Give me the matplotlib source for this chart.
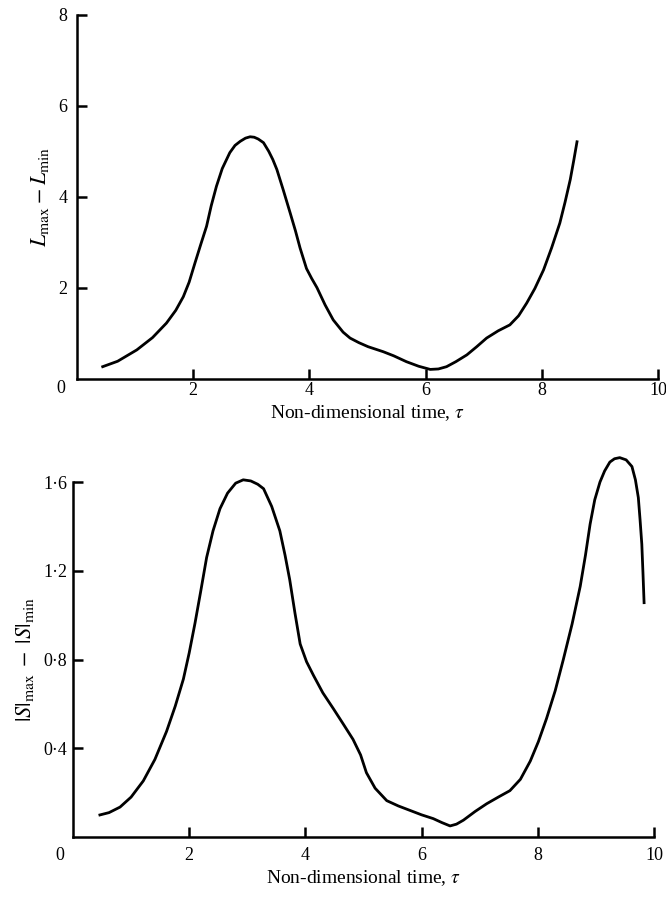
import matplotlib
matplotlib.use("Agg")
import matplotlib.pyplot as plt

plt.rcParams['font.family'] = ['Liberation Serif', 'DejaVu Serif']
plt.rcParams['mathtext.fontset'] = 'stix'

# Top panel: L_max - L_min vs non-dimensional time
top_x = [0.42, 0.70, 1.03, 1.30, 1.54, 1.70, 1.83, 1.93, 2.03, 2.13, 2.23, 2.31, 2.40, 2.50,
         2.63, 2.72, 2.81, 2.90, 2.98, 3.05, 3.12, 3.21, 3.30, 3.37, 3.44, 3.55, 3.67, 3.76,
         3.84, 3.95, 4.04, 4.13, 4.27, 4.41, 4.58, 4.70, 4.85, 5.01, 5.27, 5.45, 5.67, 5.88,
         6.08, 6.22, 6.36, 6.52, 6.71, 6.88, 7.05, 7.25, 7.45, 7.60, 7.74, 7.88, 8.03, 8.17,
         8.31, 8.40, 8.49, 8.55, 8.61]
top_y = [0.25, 0.38, 0.63, 0.90, 1.22, 1.50, 1.80, 2.12, 2.54, 2.95, 3.35, 3.80, 4.23, 4.62,
         4.97, 5.13, 5.22, 5.29, 5.32, 5.31, 5.27, 5.19, 5.00, 4.82, 4.60, 4.15, 3.64, 3.25,
         2.87, 2.42, 2.20, 2.00, 1.62, 1.29, 1.02, 0.89, 0.79, 0.70, 0.59, 0.50, 0.37, 0.27,
         0.20, 0.21, 0.26, 0.37, 0.52, 0.70, 0.89, 1.05, 1.18, 1.38, 1.66, 1.98, 2.39, 2.88,
         3.42, 3.88, 4.38, 4.80, 5.24]

# Bottom panel: |S|_max - |S|_min vs non-dimensional time
bot_x = [0.44, 0.62, 0.81, 1.00, 1.21, 1.41, 1.61, 1.76, 1.90, 2.00, 2.10, 2.20, 2.30, 2.41,
         2.53, 2.66, 2.80, 2.93, 3.06, 3.18, 3.28, 3.42, 3.56, 3.65, 3.73, 3.82, 3.91, 4.02,
         4.14, 4.30, 4.48, 4.65, 4.82, 4.95, 5.05, 5.20, 5.40, 5.60, 5.80, 6.00, 6.20, 6.35,
         6.49, 6.60, 6.72, 6.92, 7.12, 7.32, 7.52, 7.70, 7.87, 8.01, 8.15, 8.30, 8.44, 8.59,
         8.73, 8.82, 8.90, 8.98, 9.07, 9.15, 9.24, 9.32, 9.41, 9.52, 9.62, 9.68, 9.73, 9.76,
         9.79, 9.81, 9.83]
bot_y = [0.098, 0.110, 0.135, 0.180, 0.253, 0.350, 0.476, 0.590, 0.712, 0.830, 0.964, 1.110,
         1.260, 1.380, 1.480, 1.550, 1.595, 1.610, 1.605, 1.590, 1.570, 1.490, 1.380, 1.270,
         1.160, 1.010, 0.870, 0.790, 0.728, 0.650, 0.579, 0.510, 0.440, 0.370, 0.290, 0.220,
         0.164, 0.140, 0.120, 0.100, 0.083, 0.065, 0.050, 0.058, 0.076, 0.115, 0.150, 0.180,
         0.209, 0.260, 0.342, 0.430, 0.534, 0.660, 0.801, 0.960, 1.130, 1.270, 1.410, 1.520,
         1.600, 1.650, 1.690, 1.705, 1.710, 1.700, 1.670, 1.610, 1.530, 1.430, 1.320, 1.190,
         1.050]

x_ticks = [2, 4, 6, 8, 10]
top_yticks = [2, 4, 6, 8]
bot_yticks = [0.4, 0.8, 1.2, 1.6]
bot_yticklabels = ['0·4', '0·8', '1·2', '1·6']
xlabel = 'Non-dimensional time, $\\tau$'

fig = plt.figure(figsize=(6.66, 8.98), dpi=100)
ax1 = fig.add_axes([0.1156, 0.5785, 0.8724, 0.4048])
ax2 = fig.add_axes([0.1096, 0.0679, 0.8724, 0.3953])

lw_sp = 1.8
for ax in (ax1, ax2):
    for s in ('top', 'right'):
        ax.spines[s].set_visible(False)
    for s in ('left', 'bottom'):
        ax.spines[s].set_linewidth(lw_sp)
    ax.set_xlim(0, 10)
    ax.set_xticks(x_ticks)
    ax.set_xticklabels([str(t) for t in x_ticks])
    ax.tick_params(direction='in', length=7, width=1.8, labelsize=13)

ax1.plot(top_x, top_y, color='black', lw=2.0, solid_capstyle='butt', solid_joinstyle='round')
ax1.set_ylim(0, 8)
ax1.set_yticks(top_yticks)
ax1.set_yticklabels([str(t) for t in top_yticks])
ax1.tick_params(axis='x', pad=2.5)
ax1.tick_params(axis='y', pad=7)
ax1.set_xlabel(xlabel, fontsize=14, labelpad=3)
ax1.set_ylabel('$L_{\\mathrm{max}} - L_{\\mathrm{min}}$', fontsize=16, labelpad=5)
ax1.text(-0.28, -0.028, '0', transform=ax1.transData, ha='center', va='top', fontsize=13)

ax2.plot(bot_x, bot_y, color='black', lw=2.0, clip_on=False,
         solid_capstyle='butt', solid_joinstyle='round')
ax2.set_ylim(0, 1.6)
ax2.set_yticks(bot_yticks)
ax2.set_yticklabels(bot_yticklabels)
ax2.tick_params(axis='x', pad=7)
ax2.tick_params(axis='y', pad=4)
ax2.set_xlabel(xlabel, fontsize=14, labelpad=3)
ax2.set_ylabel('$|S|_{\\mathrm{max}}\\;-\\;|S|_{\\mathrm{min}}$', fontsize=16, labelpad=5)
ax2.text(-0.22, -0.045, '0', transform=ax2.transData, ha='center', va='top', fontsize=13)

fig.savefig('out.png', dpi=100)
